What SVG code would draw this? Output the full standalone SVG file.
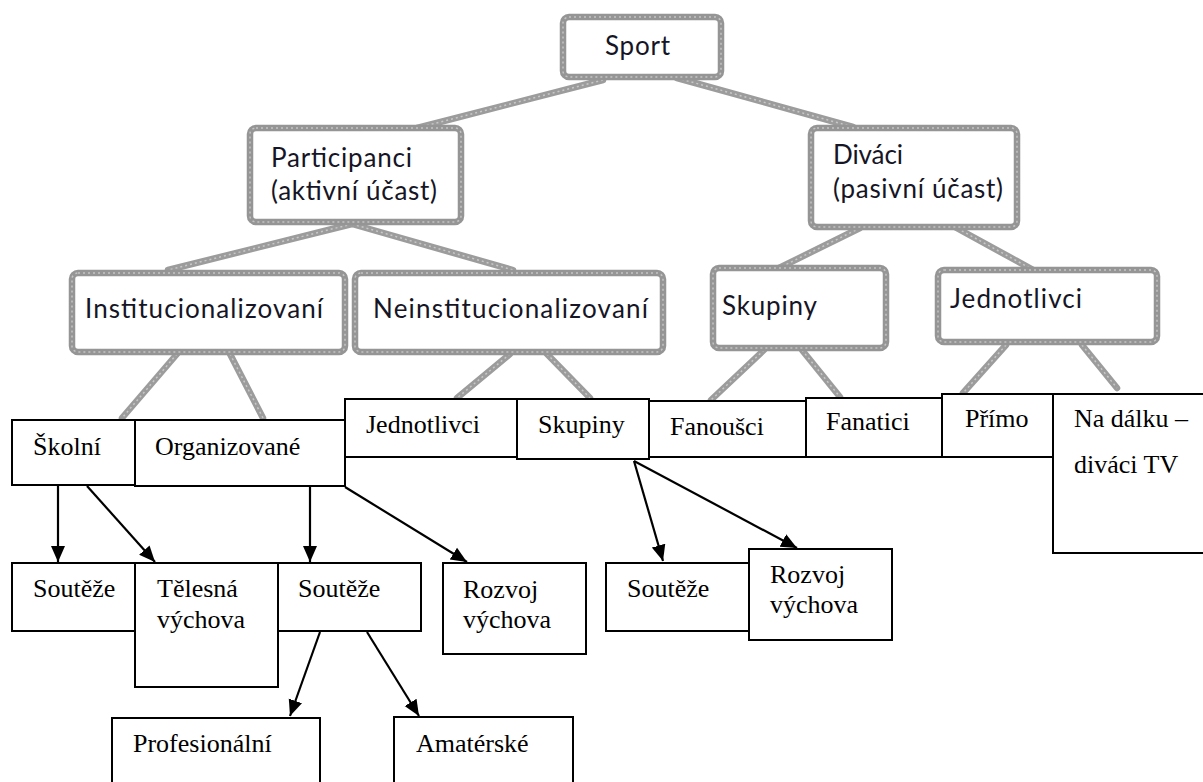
<svg xmlns="http://www.w3.org/2000/svg" width="1203" height="782" viewBox="0 0 1203 782">
<defs>
<style>
.g{fill:#fff;stroke:#959595;stroke-width:6.5}
.gt{fill:none;stroke:#c4c4c4;stroke-width:1.5;stroke-dasharray:2 3}
.gl{stroke:#9c9c9c;stroke-width:6.5;stroke-linecap:round;fill:none}
.glt{stroke:#c8c8c8;stroke-width:1.5;stroke-dasharray:2 3;fill:none}
.b{fill:#fff;stroke:#000;stroke-width:2}
.c{font-family:Lato,"Open Sans","Liberation Sans",sans-serif;font-size:26px;fill:#151525}
.t{font-family:"Liberation Serif","Times New Roman",serif;font-size:26px;fill:#000}
.a{stroke:#000;stroke-width:2.2;fill:none;marker-end:url(#ah)}
</style>
<marker id="ah" markerUnits="userSpaceOnUse" markerWidth="17" markerHeight="16" viewBox="0 0 17 16" refX="16" refY="8" orient="auto">
<path d="M0,1 L16,8 L0,15 Z" fill="#000"/>
</marker>
</defs>
<rect width="1203" height="782" fill="#fff"/>

<g id="connectors">
<path class="gl" d="M603,80 L417,128"/><path class="glt" d="M603,80 L417,128"/>
<path class="gl" d="M677,78 L853,127"/><path class="glt" d="M677,78 L853,127"/>
<path class="gl" d="M352,224 L168,270"/><path class="glt" d="M352,224 L168,270"/>
<path class="gl" d="M352,224 L513,270"/><path class="glt" d="M352,224 L513,270"/>
<path class="gl" d="M860,228 L779,268"/><path class="glt" d="M860,228 L779,268"/>
<path class="gl" d="M953,226 L1037,272"/><path class="glt" d="M953,226 L1037,272"/>
<path class="gl" d="M177,354 L122,418"/><path class="glt" d="M177,354 L122,418"/>
<path class="gl" d="M230,354 L263,418"/><path class="glt" d="M230,354 L263,418"/>
<path class="gl" d="M510,354 L457,398"/><path class="glt" d="M510,354 L457,398"/>
<path class="gl" d="M547,354 L590,398"/><path class="glt" d="M547,354 L590,398"/>
<path class="gl" d="M764,350 L711,400"/><path class="glt" d="M764,350 L711,400"/>
<path class="gl" d="M802,350 L840,397"/><path class="glt" d="M802,350 L840,397"/>
<path class="gl" d="M1006,345 L963,393"/><path class="glt" d="M1006,345 L963,393"/>
<path class="gl" d="M1082,345 L1117,388"/><path class="glt" d="M1082,345 L1117,388"/>
</g>

<g id="sport"><rect class="g" x="563" y="17" width="158" height="60" rx="6"/><rect class="gt" x="563" y="17" width="158" height="60" rx="6"/><text class="c" x="605" y="55" textLength="65">Sport</text></g>
<g id="participanci"><rect class="g" x="250" y="128" width="211" height="94" rx="6"/><rect class="gt" x="250" y="128" width="211" height="94" rx="6"/><text class="c" x="271" y="167" textLength="141">Participanci</text><text class="c" x="271" y="200" textLength="166">(aktivní účast)</text></g>
<g id="divaci"><rect class="g" x="811" y="128" width="206" height="99" rx="6"/><rect class="gt" x="811" y="128" width="206" height="99" rx="6"/><text class="c" x="833" y="164" textLength="70">Diváci</text><text class="c" x="833" y="198" textLength="170">(pasivní účast)</text></g>
<g id="instit"><rect class="g" x="72" y="273" width="273" height="79" rx="6"/><rect class="gt" x="72" y="273" width="273" height="79" rx="6"/><text class="c" x="85" y="318" textLength="238">Institucionalizovaní</text></g>
<g id="neinstit"><rect class="g" x="355" y="273" width="308" height="79" rx="6"/><rect class="gt" x="355" y="273" width="308" height="79" rx="6"/><text class="c" x="373" y="318" textLength="275">Neinstitucionalizovaní</text></g>
<g id="skupiny-g"><rect class="g" x="713" y="268" width="173" height="80" rx="6"/><rect class="gt" x="713" y="268" width="173" height="80" rx="6"/><text class="c" x="722" y="315" textLength="95">Skupiny</text></g>
<g id="jednotlivci-g"><rect class="g" x="938" y="270" width="219" height="72" rx="6"/><rect class="gt" x="938" y="270" width="219" height="72" rx="6"/><text class="c" x="950" y="308" textLength="132">Jednotlivci</text></g>

<g id="skolni"><rect class="b" x="12" y="420" width="123" height="65"/><text class="t" x="33" y="455">Školní</text></g>
<g id="organizovane"><rect class="b" x="135" y="420" width="210" height="66"/><text class="t" x="155" y="455">Organizované</text></g>
<g id="jednotlivci"><rect class="b" x="345" y="399" width="172" height="58"/><text class="t" x="366" y="433">Jednotlivci</text></g>
<g id="skupiny"><rect class="b" x="517" y="399" width="132" height="60"/><text class="t" x="538" y="433">Skupiny</text></g>
<g id="fanousci"><rect class="b" x="649" y="401" width="157" height="56"/><text class="t" x="670" y="435">Fanoušci</text></g>
<g id="fanatici"><rect class="b" x="806" y="398" width="136" height="59"/><text class="t" x="826" y="430">Fanatici</text></g>
<g id="primo"><rect class="b" x="942" y="394" width="111" height="63"/><text class="t" x="965" y="427">Přímo</text></g>
<g id="nadalku"><rect class="b" x="1053" y="394" width="160" height="159"/><text class="t" x="1074" y="427">Na dálku –</text><text class="t" x="1074" y="473">diváci TV</text></g>

<g id="souteze1"><rect class="b" x="12" y="563" width="123" height="68"/><text class="t" x="33" y="597">Soutěže</text></g>
<g id="souteze2"><rect class="b" x="278" y="563" width="143" height="68"/><text class="t" x="298" y="597">Soutěže</text></g>
<g id="telesna"><rect class="b" x="135" y="563" width="143" height="124"/><text class="t" x="157" y="597">Tělesná</text><text class="t" x="157" y="628">výchova</text></g>
<g id="rozvoj1"><rect class="b" x="443" y="563" width="143" height="91"/><text class="t" x="463" y="598">Rozvoj</text><text class="t" x="463" y="628">výchova</text></g>
<g id="souteze3"><rect class="b" x="606" y="563" width="143" height="68"/><text class="t" x="627" y="597">Soutěže</text></g>
<g id="rozvoj2"><rect class="b" x="749" y="549" width="143" height="91"/><text class="t" x="770" y="583">Rozvoj</text><text class="t" x="770" y="613">výchova</text></g>
<g id="profesionalni"><rect class="b" x="112" y="718" width="208" height="80"/><text class="t" x="133" y="752">Profesionální</text></g>
<g id="amaterske"><rect class="b" x="394" y="717" width="179" height="80"/><text class="t" x="416" y="752">Amatérské</text></g>

<g id="arrows">
<path class="a" d="M58,486 L58,562"/>
<path class="a" d="M87,486 L155,562"/>
<path class="a" d="M310,487 L310,562"/>
<path class="a" d="M345,487 L467,562"/>
<path class="a" d="M634,461 L663,561"/>
<path class="a" d="M634,461 L797,548"/>
<path class="a" d="M320,632 L290,716"/>
<path class="a" d="M367,632 L419,716"/>
</g>
</svg>
